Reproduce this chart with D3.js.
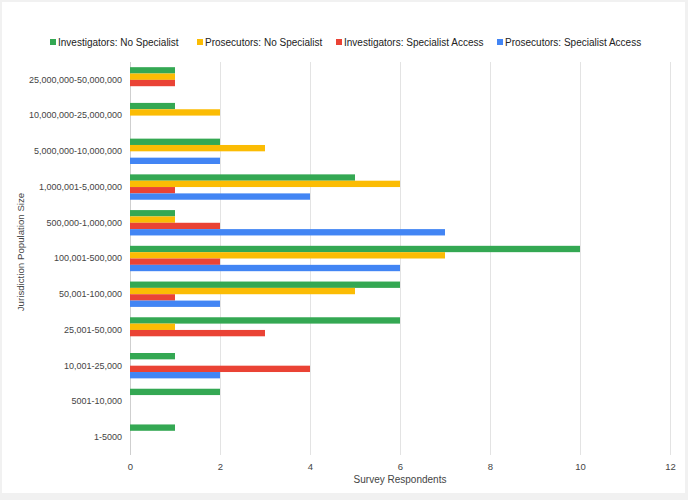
<!DOCTYPE html>
<html><head><meta charset="utf-8">
<script src="https://cdn.jsdelivr.net/npm/d3@7"></script>
<style>
body{margin:0;background:#f1f1f1;}
svg{display:block;font-family:"Liberation Sans",Arial,sans-serif;}
</style></head>
<body>
<svg id="chart" width="688" height="500"></svg>
<script>
const categories = ["25,000,000-50,000,000","10,000,000-25,000,000","5,000,000-10,000,000","1,000,001-5,000,000","500,000-1,000,000","100,001-500,000","50,001-100,000","25,001-50,000","10,001-25,000","5001-10,000","1-5000"];
const seriesNames = ["Investigators: No Specialist","Prosecutors: No Specialist","Investigators: Specialist Access","Prosecutors: Specialist Access"];
const investigatorsNoSpecialist = [1,1,2,5,1,10,6,6,1,2,1];
const prosecutorsNoSpecialist   = [1,2,3,6,1,7,5,1,0,0,0];
const investigatorsSpecialist   = [1,0,0,1,2,2,1,3,4,0,0];
const prosecutorsSpecialist     = [0,0,2,4,7,6,2,0,2,0,0];
const xTicks = [0,2,4,6,8,10,12];
const colors = ["#34a853","#fbbc04","#ea4335","#4285f4"];

const seriesValues = [investigatorsNoSpecialist, prosecutorsNoSpecialist, investigatorsSpecialist, prosecutorsSpecialist];
const svg = d3.select("#chart");
svg.append("rect").attr("x",2).attr("y",2).attr("width",683).attr("height",491).attr("fill","#fff");

const mLeft=130, mRight=670, mTop=62, mBottom=455;
const x = d3.scaleLinear().domain([0,12]).range([mLeft,mRight]);
const y = d3.scaleBand().domain(categories).range([mTop,mBottom]).paddingInner(0.29).paddingOuter(0.145);
const yInner = d3.scaleBand().domain(d3.range(4)).range([0,y.bandwidth()]);

// gridlines
svg.append("g").selectAll("line").data(xTicks).join("line")
  .attr("x1",d=>x(d)).attr("x2",d=>x(d)).attr("y1",mTop).attr("y2",mBottom)
  .attr("stroke",d=>d===0?"#cfcfcf":"#e3e3e3").attr("stroke-width",1)
  .attr("shape-rendering","crispEdges");

// bars
const groups = svg.append("g").selectAll("g").data(categories).join("g")
  .attr("transform",c=>`translate(0,${y(c)})`);
groups.selectAll("rect").data((c,i)=>seriesValues.map((s,k)=>({k,v:s[i]})).filter(d=>d.v>0)).join("rect")
  .attr("x",x(0)).attr("y",d=>yInner(d.k)).attr("height",yInner.bandwidth())
  .attr("width",d=>x(d.v)-x(0)).attr("fill",d=>colors[d.k]);

// x axis labels
const xAxis = d3.axisBottom(x).tickValues(xTicks).tickSize(0).tickPadding(6);
const xg = svg.append("g").attr("transform",`translate(0,${mBottom+2})`).call(xAxis);
xg.select(".domain").remove();
xg.selectAll("text").attr("font-size",9.5).attr("fill","#444").style("font-family","Liberation Sans, Arial, sans-serif");

// y axis labels
const yAxis = d3.axisLeft(y).tickSize(0).tickPadding(8);
const yg = svg.append("g").attr("transform",`translate(${mLeft},0)`).call(yAxis);
yg.select(".domain").remove();
yg.selectAll("text").attr("font-size",9).attr("fill","#444").style("font-family","Liberation Sans, Arial, sans-serif");

// axis titles
svg.append("text").attr("x",400).attr("y",483).attr("text-anchor","middle")
  .attr("font-size",10).attr("fill","#444").text("Survey Respondents");
svg.append("text").attr("transform","translate(24,252) rotate(-90)").attr("text-anchor","middle")
  .attr("font-size",9.7).attr("fill","#444").text("Jurisdiction Population Size");

// legend
const legendX = [50,197,336,497];
const lg = svg.append("g").selectAll("g").data(seriesNames).join("g")
  .attr("transform",(d,i)=>`translate(${legendX[i]},42)`);
lg.append("rect").attr("x",0).attr("y",-3).attr("width",6).attr("height",6).attr("fill",(d,i)=>colors[i]);
lg.append("text").attr("x",8).attr("y",3.5).attr("font-size",10).attr("fill","#222").text(d=>d);
</script>
</body></html>
